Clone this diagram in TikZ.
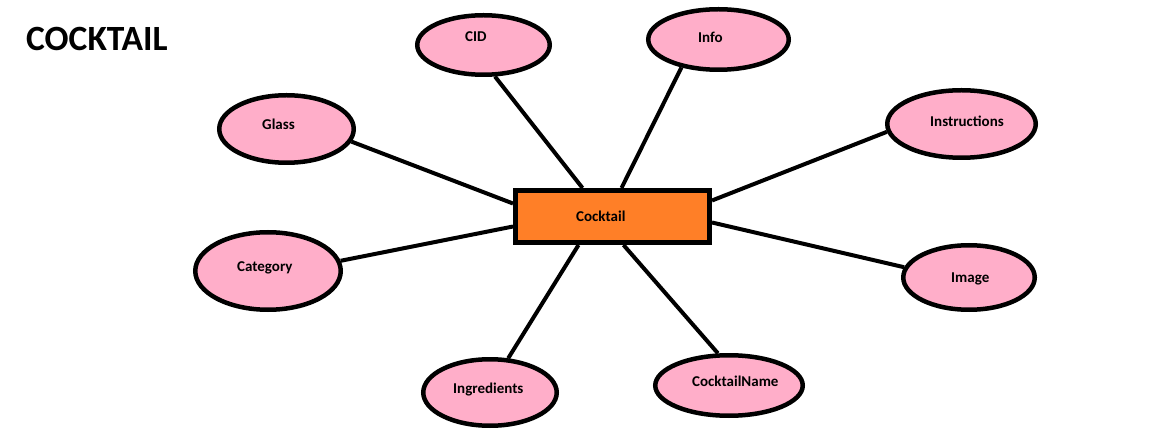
\documentclass[tikz,border=0pt]{standalone}
\usepackage{fontspec}
\setmainfont{Carlito}
\usetikzlibrary{shapes.geometric,backgrounds}
\definecolor{pinkfill}{HTML}{FFAEC9}
\definecolor{orangefill}{HTML}{FF7F27}
\begin{document}
\begin{tikzpicture}[x=1pt,y=-1pt,
  attr/.style={ellipse, draw=black, line width=4.5pt, fill=pinkfill, inner sep=0pt},
  ent/.style={rectangle, draw=black, line width=5pt, fill=orangefill, inner sep=0pt, minimum width=194pt, minimum height=52pt},
  lbl/.style={anchor=base west, inner sep=0pt, font=\fontsize{15}{18}\selectfont\bfseries},
  link/.style={line width=4pt, draw=black}]
\useasboundingbox (0,0) rectangle (1150,443);

\node[anchor=base west, inner sep=0pt, font=\fontsize{35.5}{42}\selectfont\bfseries] (title) at (26,50.5) {COCKTAIL};

\node[ent] (cocktail) at (612.5,216.5) {};
\node[attr, minimum width=132.5pt, minimum height=59.5pt] (cid) at (483.5,45) {};
\node[attr, minimum width=140.5pt, minimum height=60.5pt] (info) at (718.5,39.5) {};
\node[attr, minimum width=134.5pt, minimum height=67.5pt] (glass) at (286.5,129) {};
\node[attr, minimum width=145.5pt, minimum height=77.5pt] (category) at (268,271) {};
\node[attr, minimum width=148.5pt, minimum height=67.5pt] (instructions) at (961.5,124) {};
\node[attr, minimum width=131.5pt, minimum height=64.5pt] (image) at (969,277.5) {};
\node[attr, minimum width=133.5pt, minimum height=66.5pt] (ingredients) at (490,392.5) {};
\node[attr, minimum width=147.5pt, minimum height=60.5pt] (cocktailname) at (729,385.5) {};

\node[lbl] (tcocktail) at (576,222) {Cocktail};
\node[lbl] (tcid) at (465,42) {CID};
\node[lbl] (tinfo) at (698,43) {Info};
\node[lbl] (tglass) at (262,130) {Glass};
\node[lbl] (tcategory) at (237,272) {Category};
\node[lbl] (tinstructions) at (930,127) {Instructions};
\node[lbl] (timage) at (951,283) {Image};
\node[lbl] (tingredients) at (453,393) {Ingredients};
\node[lbl] (tcocktailname) at (692,386) {CocktailName};

\begin{scope}[on background layer]
\fill[white] (0,0) rectangle (1150,443);
\draw[link] ([xshift=69.5pt]cocktail.north west) -- (cid.-70.8);
\draw[link] ([xshift=108.5pt]cocktail.north west) -- (info.-143);
\draw[link] ([yshift=-15.5pt]cocktail.north west) -- (glass.-11.9);
\draw[link] ([yshift=-38.5pt]cocktail.north west) -- (category.8.5);
\draw[link] ([yshift=-12.5pt]cocktail.north east) -- (instructions.186.2);
\draw[link] ([yshift=-34.5pt]cocktail.north east) -- (image.171.8);
\draw[link] ([xshift=65.5pt]cocktail.south west) -- (ingredients.62.4);
\draw[link] ([xshift=110.5pt]cocktail.south west) -- (cocktailname.109.7);
\end{scope}
\end{tikzpicture}
\end{document}
